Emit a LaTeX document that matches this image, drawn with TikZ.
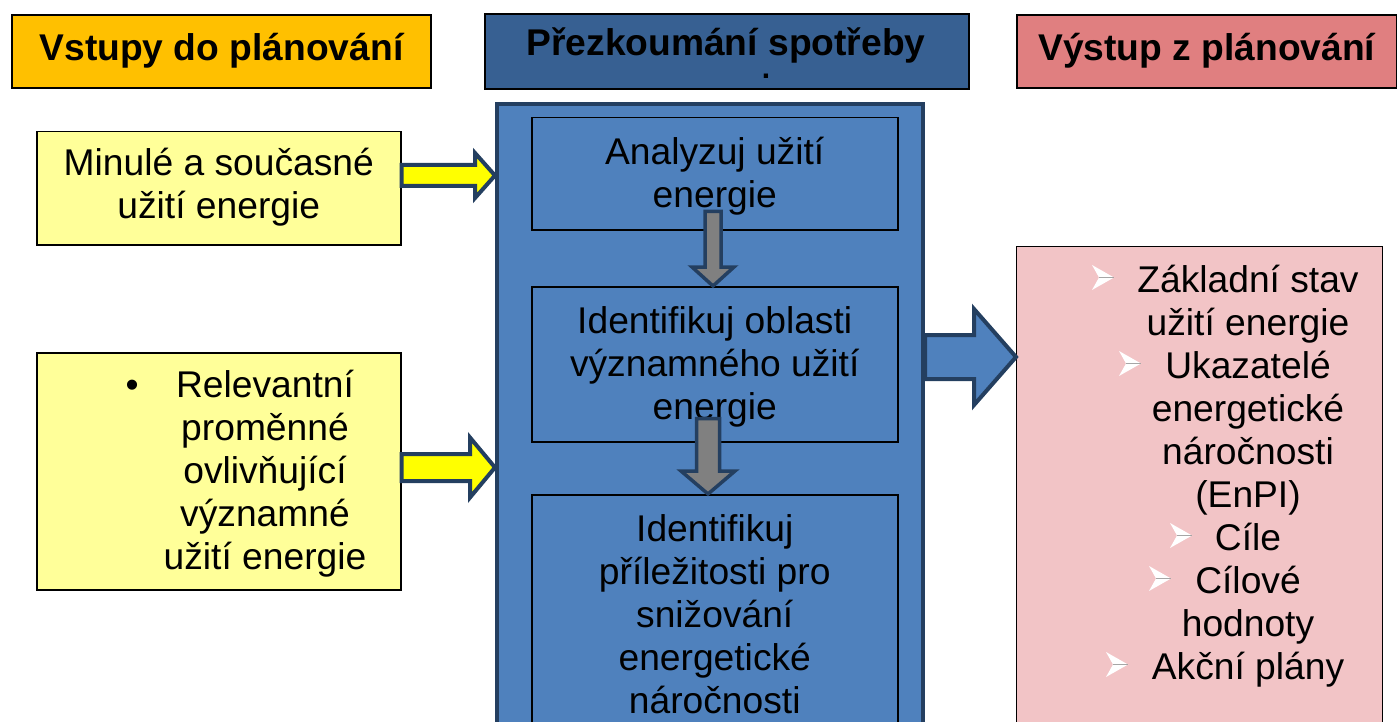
\documentclass[tikz,border=0pt]{standalone}
\usepackage{fontspec}
\setmainfont{Liberation Sans}
\usetikzlibrary{calc}
\definecolor{gold}{HTML}{FFC000}
\definecolor{hblue}{HTML}{376092}
\definecolor{hred}{HTML}{E07F80}
\definecolor{lyellow}{HTML}{FFFF99}
\definecolor{pblue}{HTML}{4F81BD}
\definecolor{navy}{HTML}{243F60}
\definecolor{lpink}{HTML}{F2C4C6}
\definecolor{agray}{HTML}{808080}
\definecolor{yarrowfill}{HTML}{FFFF00}

% horizontal block arrow: style, from node, to node, y(px), shaft half, head half, head length
\newcommand\harr[7]{%
 \draw[#1] let \p1=(#2.east), \p2=(#3.west) in
  (\x1,{-(#4-#5)*1pt}) -- ({\x2-#7pt},{-(#4-#5)*1pt}) -- ({\x2-#7pt},{-(#4-#6)*1pt})
  -- (\x2,{-#4pt}) -- ({\x2-#7pt},{-(#4+#6)*1pt}) -- ({\x2-#7pt},{-(#4+#5)*1pt})
  -- (\x1,{-(#4+#5)*1pt}) -- cycle;}
% vertical block arrow: style, from, to, x(px), shaft half, head half, head length, start offset
\newcommand\varr[8]{%
 \draw[#1] let \p1=(#2.south), \p2=(#3.north) in
  ({(#4-#5)*1pt},{\y1+#8pt}) -- ({(#4-#5)*1pt},{\y2+#7pt}) -- ({(#4-#6)*1pt},{\y2+#7pt})
  -- ({#4pt},\y2) -- ({(#4+#6)*1pt},{\y2+#7pt}) -- ({(#4+#5)*1pt},{\y2+#7pt})
  -- ({(#4+#5)*1pt},{\y1+#8pt}) -- cycle;}
\newcommand\topstrut[1]{\rule{0pt}{#1}}

\begin{document}
\begin{tikzpicture}[x=1pt,y=-1pt,
  txt/.style={font=\fontsize{37.2}{43}\selectfont, align=center, inner sep=0pt},
  hdr/.style={draw=black, line width=2pt, anchor=north west, inner sep=0pt,
    font=\bfseries\fontsize{37.2}{43}\selectfont, align=center},
  ybox/.style={draw=black, line width=1.5pt, fill=lyellow, anchor=north west, inner sep=0pt,
    font=\fontsize{37.2}{43}\selectfont, align=center},
  panelbox/.style={draw=navy, line width=4pt, fill=pblue, anchor=north west, inner sep=0pt},
  ibox/.style={draw=black, line width=1.5pt, fill=pblue, anchor=north west, inner sep=0pt,
    font=\fontsize{37.2}{43}\selectfont, align=center},
  pbox/.style={draw=black, line width=1.3pt, fill=lpink, anchor=north west, inner sep=0pt},
  yarr/.style={draw=navy, line width=4pt, fill=yarrowfill},
  garr/.style={draw=navy, line width=3.5pt, fill=agray},
  barr/.style={draw=navy, line width=4pt, fill=pblue},
  pbul/.pic={\fill[white] (0,0) -- (22,12.5) -- (0,25) -- (7,12.5) -- cycle;
             \draw[black!35, line width=0.6pt] (7,12.5) -- (22,12.5);}
]
\useasboundingbox (0,0) rectangle (1397,722);
\clip (0,0) rectangle (1397,722);

% headers
\node[hdr, fill=gold, minimum width=419, minimum height=73] (h1) at (11,14) {\strut Vstupy do plánování};
\node[hdr, fill=hblue, minimum width=484, minimum height=75] (h2) at (484,13) {};
\node[txt, font=\bfseries\fontsize{37.2}{43}\selectfont, anchor=base] (h2t) at (726,56) {Přezkoumání spotřeby};
\node[txt, font=\bfseries\fontsize{30}{30}\selectfont, anchor=base] (hdot) at (766,79) {.};
\node[hdr, fill=hred, minimum width=379.5, minimum height=73] (h3) at (1016,14) {\strut Výstup z plánování};

% inputs
\node[ybox, minimum width=364, minimum height=113] (y1) at (36,131) {\strut Minulé a současné\\užití energie\strut};
\node[ybox, minimum width=364, minimum height=237] (y2) at (36,352) {};
\node[txt] (y2t) at (265,474.4) {\strut\llap{•\hspace{37.5pt}}Relevantní\\proměnné\\ovlivňující\\významné\\užití energie\strut};

% review panel
\node[panelbox, minimum width=426, minimum height=700] (panel) at (495,102) {};
\node[ibox, minimum width=366, minimum height=112] (ib1) at (531,117) {\topstrut{37.5pt}Analyzuj užití\\energie\strut};
\node[ibox, minimum width=366, minimum height=155] (ib2) at (531,286) {\topstrut{38pt}Identifikuj oblasti\\významného užití\\energie\strut};
\node[ibox, minimum width=366, minimum height=245] (ib3) at (531,494) {\topstrut{34pt}Identifikuj\\příležitosti pro\\snižování\\energetické\\náročnosti\strut};

% outputs
\node[pbox, minimum width=366, minimum height=600] (out) at (1016,246) {};
\node[txt] (outt) at (1248,476.9) {\strut Základní stav\\užití energie\\Ukazatelé\\energetické\\náročnosti\\(EnPI)\\Cíle\\Cílové\\hodnoty\\Akční plány\strut};
\pic at (1092,265) {pbul};
\pic at (1119,351) {pbul};
\pic at (1170,523) {pbul};
\pic at (1149,566) {pbul};
\pic at (1106,652) {pbul};

% connectors
\varr{garr}{ib1}{ib2}{713}{8}{21}{19}{19}
\varr{garr}{ib2}{ib3}{708}{11.5}{27}{23}{24}
\harr{yarr}{y1}{panel}{175.5}{10.5}{22.5}{20}
\harr{yarr}{y2}{panel}{467.5}{13.5}{30}{25}
\harr{barr}{panel}{out}{357}{22}{48}{42}
\end{tikzpicture}
\end{document}
